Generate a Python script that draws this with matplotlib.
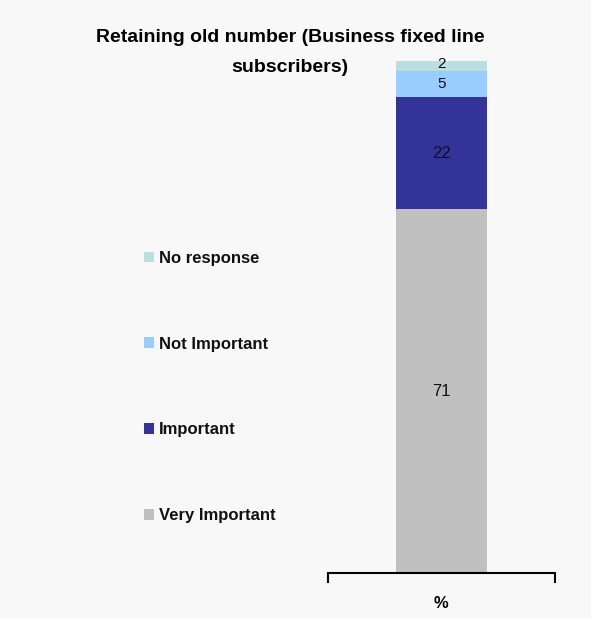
import matplotlib
matplotlib.use("Agg")
import matplotlib.pyplot as plt

plt.rcParams['font.family'] = ['Liberation Sans', 'DejaVu Sans']

# data
categories = ['Very Important', 'Important', 'Not Important', 'No response']
values = [71, 22, 5, 2]
colors = ['#c0c0c0', '#333399', '#99ccff', '#bbdfe0']
title_lines = ['Retaining old number (Business fixed line', 'subscribers)']

bg = '#f8f8f8'
fig = plt.figure(figsize=(5.91, 6.19), dpi=100, facecolor=bg)
ax = fig.add_axes([328 / 591, 46 / 619, 227 / 591, 512 / 619], facecolor=bg)

bottom = 0
bars = []
for i, (cat, val, col) in enumerate(zip(categories, values, colors)):
    b = ax.bar(0.5, val, width=0.4, bottom=bottom, color=col, label=cat)
    bars.append(b)
    # the top label sits a touch higher so it does not collide with the one below
    dy = 1.5 if i == len(values) - 1 else 0
    ax.annotate(str(val), (0.5, bottom + val / 2), xytext=(0, dy),
                textcoords='offset points', ha='center', va='center',
                fontsize=12 if val > 10 else 11, color='#111111')
    bottom += val

ax.set_xlim(0, 1)
ax.set_ylim(0, 100)
for s in ['top', 'left', 'right']:
    ax.spines[s].set_visible(False)
ax.spines['bottom'].set_linewidth(1.5)
ax.set_yticks([])
ax.set_xticks([0, 1])
ax.set_xticklabels(['', ''])
ax.tick_params(axis='x', length=7, width=1.5, direction='out')
ax.set_xlabel('%', fontsize=12, fontweight='bold', labelpad=6)

# title as two separate lines (second line sits next to the bar top)
for line, ypix in zip(title_lines, [37, 67]):
    fig.text(290 / 591, 1 - ypix / 619, line, ha='center', va='center',
             fontsize=14, fontweight='bold')

leg = fig.legend(handles=bars[::-1], labels=categories[::-1],
                 loc='upper left', bbox_to_anchor=(137 / 591, 1 - 244 / 619),
                 frameon=False, fontsize=12, labelspacing=4.25,
                 handlelength=0.6, handleheight=0.6, handletextpad=0.3,
                 borderaxespad=0)
for t in leg.get_texts():
    t.set_fontweight('bold')
    t.set_color('#111111')

fig.savefig('out.png', dpi=100, facecolor=bg)
